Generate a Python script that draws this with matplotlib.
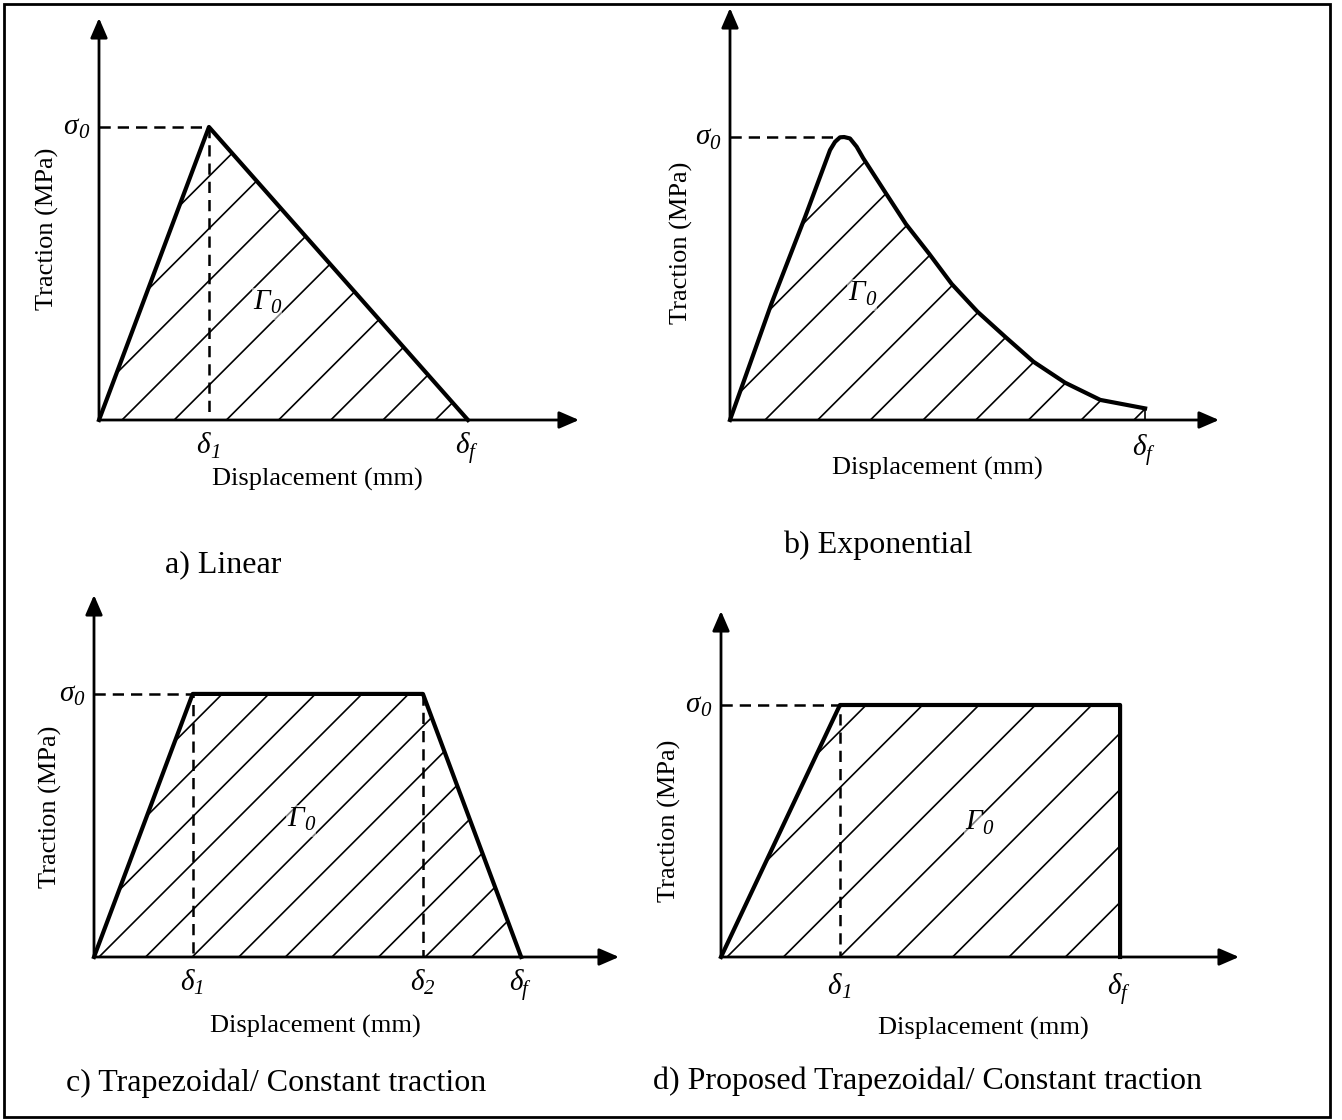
import numpy as np
import matplotlib
matplotlib.use('Agg')
import matplotlib.pyplot as plt
from matplotlib.patches import Polygon, Rectangle

plt.rcParams['font.family'] = 'Liberation Serif'

W, H = 1342, 1120

# a) linear law (displacement / delta_f, traction / sigma_0)
lin_disp = [0.0, 0.298, 1.0]
lin_trac = [0.0, 1.0, 0.0]

# b) exponential law
exp_disp = [0.0, 0.100, 0.181, 0.241, 0.253, 0.265, 0.275, 0.289, 0.305, 0.321,
            0.373, 0.424, 0.480, 0.534, 0.596, 0.663, 0.731, 0.807, 0.892, 1.0]
exp_trac = [0.0, 0.412, 0.718, 0.954, 0.983, 0.999, 1.0, 0.995, 0.966, 0.925,
            0.807, 0.692, 0.587, 0.481, 0.383, 0.294, 0.206, 0.132, 0.071, 0.041]

# c) trapezoidal
trap_disp = [0.0, 0.231, 0.770, 1.0]
trap_trac = [0.0, 1.0, 1.0, 0.0]

# d) proposed trapezoidal
prop_disp = [0.0, 0.298, 1.0, 1.0]
prop_trac = [0.0, 1.0, 1.0, 0.0]

captions = ['a) Linear', 'b) Exponential',
            'c) Trapezoidal/ Constant traction',
            'd) Proposed Trapezoidal/ Constant traction']

fig = plt.figure(figsize=(W / 100, H / 100), dpi=100)
fig.patches.append(Rectangle((4 / W, 1 - 1117 / H), 1326 / W, 1113 / H,
                             transform=fig.transFigure, fill=False,
                             lw=2, ec='k'))


def px(x, y):
    return x / W, 1 - y / H


def make_axes(origin, xtip, ytip, xmax, ymax):
    x0, y0 = origin
    ax = fig.add_axes([x0 / W, 1 - y0 / H, (xtip - x0) / W, (y0 - ytip) / H])
    ax.set_xlim(0, xmax)
    ax.set_ylim(0, ymax)
    ax.axis('off')
    arrow = dict(arrowstyle='-|>,head_length=0.6,head_width=0.26',
                 lw=2.0, color='k', shrinkA=0, shrinkB=0, mutation_scale=20)
    ax.annotate('', xy=(xmax, 0), xytext=(0, 0), arrowprops=arrow,
                annotation_clip=False)
    ax.annotate('', xy=(0, ymax), xytext=(0, 0), arrowprops=arrow,
                annotation_clip=False)
    return ax


def hatch(ax, xs, ys, spacing, offset):
    poly = Polygon(np.column_stack([xs, ys]), closed=True, fc='none',
                   ec='none', transform=ax.transData)
    ax.add_patch(poly)
    ox, oy = ax.transData.transform((0, 0))
    x1, y1 = ax.transData.transform((max(xs), max(ys)))
    h = y1 - oy
    inv = ax.transData.inverted()
    start = offset - spacing * np.ceil(h / spacing)
    for c in np.arange(start, x1 - ox + spacing, spacing):
        p0 = inv.transform((ox + c - 20, oy - 20))
        p1 = inv.transform((ox + c + h + 20, y1 + 20))
        ln, = ax.plot([p0[0], p1[0]], [p0[1], p1[1]], color='k', lw=1.2,
                      zorder=1)
        ln.set_clip_path(poly)


def dashed(ax, xs, ys):
    ax.plot(xs, ys, color='k', lw=1.8, ls=(0, (4.5, 2.8)), zorder=2,
            clip_on=False)


def curve(ax, xs, ys):
    ax.plot(xs, ys, color='k', lw=3.0, zorder=3, solid_joinstyle='round',
            clip_on=False)


def sym(ax, xy, main, sub, dx, dy, coords='data', bbox=None):
    # italic symbol with an italic subscript, centred on the offset point
    ax.annotate(main, xy=xy, xycoords=coords, xytext=(dx + 3, dy),
                textcoords='offset pixels', ha='right', va='center',
                fontsize=21, fontstyle='italic', annotation_clip=False,
                bbox=bbox, zorder=4)
    ax.annotate(sub, xy=xy, xycoords=coords, xytext=(dx + 3, dy - 7),
                textcoords='offset pixels', ha='left', va='center',
                fontsize=15, fontstyle='italic', annotation_clip=False,
                bbox=bbox, zorder=4)


def sigma_label(ax):
    sym(ax, (0, 1), 'σ', '0', -24, 0)


def delta_label(ax, x, sub, dy=28):
    sym(ax, (x, 0), 'δ', sub, -2, -dy)


def gamma_label(ax, x, y):
    box = dict(fc='white', ec='none', alpha=0.5, pad=1)
    sym(ax, px(x, y), 'Γ', '0', 0, 0, coords='figure fraction', bbox=box)


def axis_titles(xlab, ylab):
    fig.text(*px(*xlab), 'Displacement (mm)', ha='center', va='center',
             fontsize=19)
    fig.text(*px(*ylab), 'Traction (MPa)', ha='center', va='center',
             fontsize=19, rotation=90)


# ---- a) linear
ax = make_axes((99, 420), 579, 18, 1.301, 1.372)
hatch(ax, lin_disp, lin_trac, 52.2, 23)
dashed(ax, [0, lin_disp[1], lin_disp[1]], [1, 1, 0])
curve(ax, lin_disp, lin_trac)
sigma_label(ax)
delta_label(ax, lin_disp[1], '1', 26)
delta_label(ax, lin_disp[2], 'f', 26)
gamma_label(ax, 267, 302)
axis_titles((317, 479), (47, 229))
fig.text(*px(165, 565), captions[0], ha='left', va='center', fontsize=23)

# ---- b) exponential
ax = make_axes((730, 420), 1219, 8, 1.178, 1.456)
hatch(ax, exp_disp + [exp_disp[-1]], exp_trac + [0.0], 52.7, 35)
ipk = int(np.argmax(exp_trac))
dashed(ax, [0, exp_disp[ipk]], [1, 1])
ax.plot([exp_disp[-1], exp_disp[-1]], [exp_trac[-1], 0], color='k', lw=1.2)
curve(ax, exp_disp, exp_trac)
sigma_label(ax)
delta_label(ax, exp_disp[-1], 'f', 28)
gamma_label(ax, 862, 293)
axis_titles((937, 468), (681, 243))
fig.text(*px(783, 545), captions[1], ha='left', va='center', fontsize=23)

# ---- c) trapezoidal
ax = make_axes((94, 957), 619, 595, 1.229, 1.376)
hatch(ax, trap_disp, trap_trac, 46.6, 5)
dashed(ax, [0, trap_disp[1], trap_disp[1]], [1, 1, 0])
dashed(ax, [trap_disp[2], trap_disp[2]], [1, 0])
curve(ax, trap_disp, trap_trac)
sigma_label(ax)
delta_label(ax, trap_disp[1], '1', 26)
delta_label(ax, trap_disp[2], '2', 26)
delta_label(ax, trap_disp[3], 'f', 26)
gamma_label(ax, 301, 819)
axis_titles((315, 1026), (50, 807))
fig.text(*px(66, 1083), captions[2], ha='left', va='center', fontsize=23)

# ---- d) proposed trapezoidal
ax = make_axes((721, 957), 1239, 611, 1.298, 1.373)
hatch(ax, prop_disp, prop_trac, 56.4, 6)
dashed(ax, [0, prop_disp[1], prop_disp[1]], [1, 1, 0])
curve(ax, prop_disp, prop_trac)
sigma_label(ax)
delta_label(ax, prop_disp[1], '1', 30)
delta_label(ax, prop_disp[2], 'f', 30)
gamma_label(ax, 979, 822)
axis_titles((983, 1028), (669, 821))
fig.text(*px(653, 1081), captions[3], ha='left', va='center', fontsize=23)

fig.savefig('out.png', dpi=100)
